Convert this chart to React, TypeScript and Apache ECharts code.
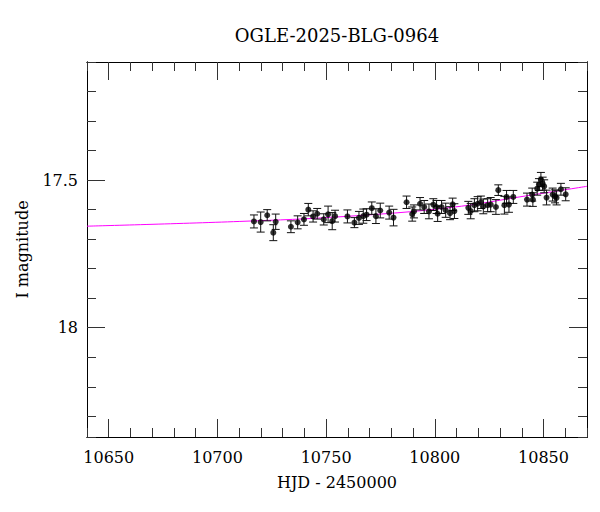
import React, { useEffect, useRef } from 'react';
import * as echarts from 'echarts';

const FONT = 'DejaVu Serif';

// photometry: HJD - 2450000, I magnitude, error
const hjd = [
  10716.8, 10719.9, 10722.9, 10725.7, 10726.8, 10733.8, 10736.9, 10739.8, 10741.8, 10744.0,
  10745.9, 10748.9, 10750.9, 10752.8, 10754.1, 10759.8, 10763.0, 10765.1, 10767.1, 10768.6,
  10771.0, 10772.9, 10774.9, 10779.0, 10781.0, 10787.0, 10789.6, 10790.4, 10793.2, 10795.1,
  10797.3, 10799.3, 10800.8, 10801.3, 10803.1, 10805.0, 10807.0, 10808.2, 10809.0, 10815.4,
  10816.5, 10818.2, 10819.7, 10821.2, 10822.3, 10824.3, 10825.7, 10828.1, 10829.2, 10832.0,
  10833.0, 10834.1, 10836.1, 10842.4, 10844.8, 10845.1, 10847.1, 10847.9, 10848.8, 10849.6,
  10850.3, 10851.4, 10854.2, 10855.3, 10856.0, 10858.0, 10860.2,
];
const mag = [
  17.640, 17.642, 17.619, 17.678, 17.641, 17.658, 17.643, 17.633, 17.600, 17.623,
  17.614, 17.633, 17.616, 17.639, 17.622, 17.623, 17.644, 17.628, 17.622, 17.617,
  17.595, 17.622, 17.603, 17.610, 17.627, 17.575, 17.615, 17.606, 17.580, 17.591,
  17.606, 17.583, 17.591, 17.614, 17.591, 17.602, 17.612, 17.582, 17.605, 17.594,
  17.605, 17.585, 17.580, 17.575, 17.589, 17.585, 17.583, 17.591, 17.534, 17.585,
  17.557, 17.583, 17.557, 17.566, 17.549, 17.566, 17.529, 17.515, 17.498, 17.512,
  17.521, 17.559, 17.549, 17.555, 17.560, 17.531, 17.548,
];
const magErr = [
  0.022, 0.034, 0.019, 0.027, 0.026, 0.020, 0.022, 0.020, 0.021, 0.019,
  0.018, 0.019, 0.028, 0.029, 0.020, 0.022, 0.017, 0.022, 0.024, 0.020,
  0.021, 0.025, 0.025, 0.022, 0.028, 0.021, 0.024, 0.022, 0.021, 0.022,
  0.025, 0.020, 0.022, 0.026, 0.022, 0.024, 0.022, 0.021, 0.025, 0.022,
  0.026, 0.022, 0.024, 0.021, 0.025, 0.022, 0.024, 0.025, 0.018, 0.030,
  0.022, 0.026, 0.022, 0.022, 0.022, 0.023, 0.022, 0.020, 0.024, 0.022,
  0.022, 0.025, 0.022, 0.022, 0.024, 0.020, 0.022,
];

// model curve
const modelHjd = [10640, 10710, 10759, 10807, 10844, 10870];
const modelMag = [17.656, 17.64, 17.623, 17.593, 17.551, 17.521];

const xMajorTicks = [10650, 10700, 10750, 10800, 10850];
const yMajorTicks = [17.5, 18];
const yLabels = ['17.5', '18'];

const X_MIN = 10640;
const X_MAX = 10870;
const Y_MIN = 17.1;
const Y_MAX = 18.37;

const lineStyle = { color: '#000', width: 1 };

const App = (): JSX.Element => {
  const divEL = useRef(null);

  useEffect(() => {
    const instance = echarts.init(divEL.current as any, null, { renderer: 'svg' });

    const xAxisBase = (position: 'top' | 'bottom', major: boolean, labels: boolean): any => ({
      type: 'value',
      gridIndex: 0,
      position,
      min: X_MIN,
      max: X_MAX,
      ...(major ? {} : { interval: 10 }),
      axisLine: { show: true, onZero: false, lineStyle },
      axisTick: {
        show: true,
        inside: true,
        length: major ? 18 : 9,
        lineStyle: { color: '#333', width: 1 },
        ...(major ? { customValues: xMajorTicks } : {}),
      },
      axisLabel: labels
        ? {
            show: true,
            margin: 12,
            color: '#000',
            fontFamily: FONT,
            fontSize: 16,
            formatter: (v: number) => (xMajorTicks.includes(Math.round(v)) ? String(Math.round(v)) : ''),
          }
        : { show: false },
      splitLine: { show: false },
      ...(labels
        ? {
            name: 'HJD - 2450000',
            nameLocation: 'middle',
            nameGap: 37,
            nameTextStyle: { color: '#000', fontFamily: FONT, fontSize: 16 },
          }
        : {}),
    });

    const yAxisBase = (position: 'left' | 'right', major: boolean, labels: boolean): any => ({
      type: 'value',
      gridIndex: 0,
      position,
      inverse: true,
      min: Y_MIN,
      max: Y_MAX,
      ...(major ? {} : { interval: 0.1 }),
      axisLine: { show: true, onZero: false, lineStyle },
      axisTick: {
        show: true,
        inside: true,
        length: major ? 18 : 9,
        lineStyle: { color: '#333', width: 1 },
        ...(major ? { customValues: yMajorTicks } : {}),
      },
      axisLabel: labels
        ? {
            show: true,
            margin: 9,
            color: '#000',
            fontFamily: FONT,
            fontSize: 16,
            formatter: (v: number) => {
              const i = yMajorTicks.findIndex((t) => Math.abs(t - v) < 1e-6);
              return i >= 0 ? yLabels[i] : '';
            },
          }
        : { show: false },
      splitLine: { show: false },
      ...(labels
        ? {
            name: 'I magnitude',
            nameLocation: 'middle',
            nameRotate: 90,
            nameGap: 57,
            nameTextStyle: { color: '#000', fontFamily: FONT, fontSize: 16 },
          }
        : {}),
    });

    const option: any = {
      animation: false,
      backgroundColor: '#fff',
      textStyle: { fontFamily: FONT },
      grid: { left: 87, top: 62, width: 500, height: 375, containLabel: false },
      graphic: [
        {
          type: 'text',
          x: 337,
          y: 35,
          style: {
            text: 'OGLE-2025-BLG-0964',
            fill: '#000',
            font: `18px "${FONT}"`,
            align: 'center',
            verticalAlign: 'middle',
          },
        },
      ],
      xAxis: [
        xAxisBase('bottom', false, true),
        xAxisBase('bottom', true, false),
        xAxisBase('top', false, false),
        xAxisBase('top', true, false),
      ],
      yAxis: [
        yAxisBase('left', false, true),
        yAxisBase('left', true, false),
        yAxisBase('right', false, false),
        yAxisBase('right', true, false),
      ],
      series: [
        {
          name: 'model',
          type: 'line',
          xAxisIndex: 0,
          yAxisIndex: 0,
          data: modelHjd.map((t, i) => [t, modelMag[i]]),
          smooth: 0.4,
          symbol: 'none',
          lineStyle: { color: '#ff00ff', width: 1 },
          z: 2,
        },
        {
          name: 'errors',
          type: 'custom',
          xAxisIndex: 0,
          yAxisIndex: 0,
          data: hjd.map((t, i) => [t, mag[i] - magErr[i], mag[i] + magErr[i]]),
          encode: { x: 0, y: [1, 2] },
          renderItem: (params: any, api: any) => {
            const t = api.value(0);
            const p1 = api.coord([t, api.value(1)]);
            const p2 = api.coord([t, api.value(2)]);
            const cap = 4;
            const style = { stroke: '#111', lineWidth: 1 };
            return {
              type: 'group',
              children: [
                { type: 'line', shape: { x1: p1[0], y1: p1[1], x2: p2[0], y2: p2[1] }, style },
                { type: 'line', shape: { x1: p1[0] - cap, y1: p1[1], x2: p1[0] + cap, y2: p1[1] }, style },
                { type: 'line', shape: { x1: p2[0] - cap, y1: p2[1], x2: p2[0] + cap, y2: p2[1] }, style },
              ],
            };
          },
          z: 3,
        },
        {
          name: 'data',
          type: 'scatter',
          xAxisIndex: 0,
          yAxisIndex: 0,
          data: hjd.map((t, i) => [t, mag[i]]),
          symbol: 'circle',
          symbolSize: 6,
          itemStyle: { color: '#000' },
          z: 4,
        },
      ],
    };

    instance.setOption(option);

    return () => {
      instance.dispose();
    };
  }, []);

  return (
    <div
      ref={divEL}
      style={{ position: 'fixed', left: 0, top: 0, width: 600, height: 512, background: '#fff' }}
    ></div>
  );
};

export default App;
